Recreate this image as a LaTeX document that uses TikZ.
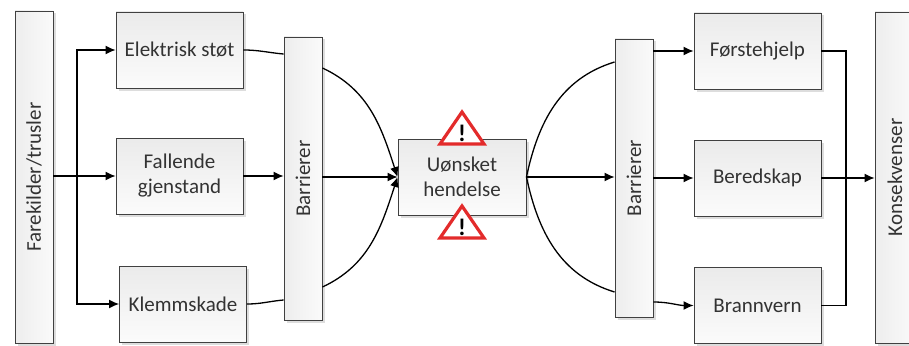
\documentclass[tikz,border=0pt]{standalone}
\usepackage{fontspec}
\setmainfont{Carlito}
\usetikzlibrary{arrows.meta,shadows}
\definecolor{txt}{HTML}{333333}
\definecolor{warnred}{HTML}{E32B2B}
\begin{document}
\begin{tikzpicture}[x=1pt,y=1pt,
  boxbase/.style={draw=black!75, line width=0.9pt, inner sep=0pt,
    top color=gray!16, bottom color=gray!3, text=txt,
    font=\fontsize{21}{25}\selectfont, align=center,
    drop shadow={shadow xshift=2.5pt, shadow yshift=-2.5pt, fill=gray!45, opacity=0.6}},
  stepbox/.style={boxbase, minimum width=127pt, minimum height=76pt},
  barbox/.style={boxbase, left color=gray!14, right color=gray!4, minimum width=38pt},
  conn/.style={line width=1.3pt, black},
  arr/.style={conn, -{Latex[length=10pt,width=9pt]}},
  warnsign/.style={draw=warnred, fill=white, line width=3.2pt, line join=miter},
  bang/.style={font=\fontsize{24}{24}\selectfont\bfseries, text=black, inner sep=0pt}
]
\useasboundingbox (0,0) rectangle (909,-345);

% bars
\node[barbox, minimum height=332pt] (fare) at (34,-177) {};
\node[rotate=90, text=txt, font=\fontsize{21}{25}\selectfont] (faret) at (fare.center) {Farekilder/trusler};
\node[barbox, minimum height=283pt] (bar1) at (303,-178.5) {};
\node[rotate=90, text=txt, font=\fontsize{21}{25}\selectfont] (bar1t) at (bar1.center) {Barrierer};
\node[barbox, minimum height=278pt] (bar2) at (634,-178) {};
\node[rotate=90, text=txt, font=\fontsize{21}{25}\selectfont] (bar2t) at (bar2.center) {Barrierer};
\node[barbox, minimum height=331pt, minimum width=40pt] (kon) at (895,-177.5) {};
\node[rotate=90, text=txt, font=\fontsize{21}{25}\selectfont] (kont) at (kon.center) {Konsekvenser};

% boxes
\node[stepbox] (el) at (179.5,-50) {Elektrisk støt};
\node[stepbox] (fall) at (179.5,-176) {Fallende\\gjenstand};
\node[stepbox] (klem) at (183,-304) {Klemmskade};
\node[stepbox, minimum width=128pt] (u) at (462,-177) {Uønsket\\hendelse};
\node[stepbox] (fo) at (757.5,-51) {Førstehjelp};
\node[stepbox] (be) at (757.5,-178) {Beredskap};
\node[stepbox] (br) at (757.5,-305.5) {Brannvern};

% left fan-out
\coordinate (j1) at (77,-177);
\draw[arr] (fare.east |- fall.west) -- (fall.west);
\draw[arr] (j1) |- (el.west);
\draw[arr] (j1) |- (klem.west);

% into barrier 1
\draw[conn] (el.east) to[out=0,in=175] (bar1.west |- 0,-54);
\draw[arr] (fall.east) -- (bar1.west |- fall.east);
\draw[conn] (klem.east) to[out=0,in=185] (bar1.west |- 0,-300);

% barrier 1 to event
\draw[arr] (bar1.east |- 0,-68) to[out=-25,in=108] (u.west);
\draw[arr] (bar1.east |- u.west) -- (u.west);
\draw[arr] (bar1.east |- 0,-287) to[out=25,in=-108] (u.west);

% event to barrier 2
\draw[conn] (u.east) to[out=78,in=197] (bar2.west |- 0,-62);
\draw[arr] (u.east) -- (bar2.west |- u.east);
\draw[conn] (u.east) to[out=-78,in=163] (bar2.west |- 0,-292);

% barrier 2 to measures
\draw[arr] (bar2.east |- fo.west) -- (fo.west);
\draw[arr] (bar2.east |- be.west) -- (be.west);
\draw[arr] (bar2.east |- 0,-302) to[out=0,in=180] (br.west);

% merge to consequences
\coordinate (j2) at (846,-178);
\draw[conn] (fo.east) -- (j2 |- fo.east) -- (j2 |- br.east) -- (br.east);
\draw[arr] (be.east) -- (kon.west |- be.east);

% warning signs
\draw[warnsign] (440,-144) -- (462,-112) -- (484,-144) -- cycle;
\node[bang] (b1) at (462,-133) {!};
\draw[warnsign] (440,-238) -- (462,-206) -- (484,-238) -- cycle;
\node[bang] (b2) at (462,-227) {!};
\end{tikzpicture}
\end{document}
